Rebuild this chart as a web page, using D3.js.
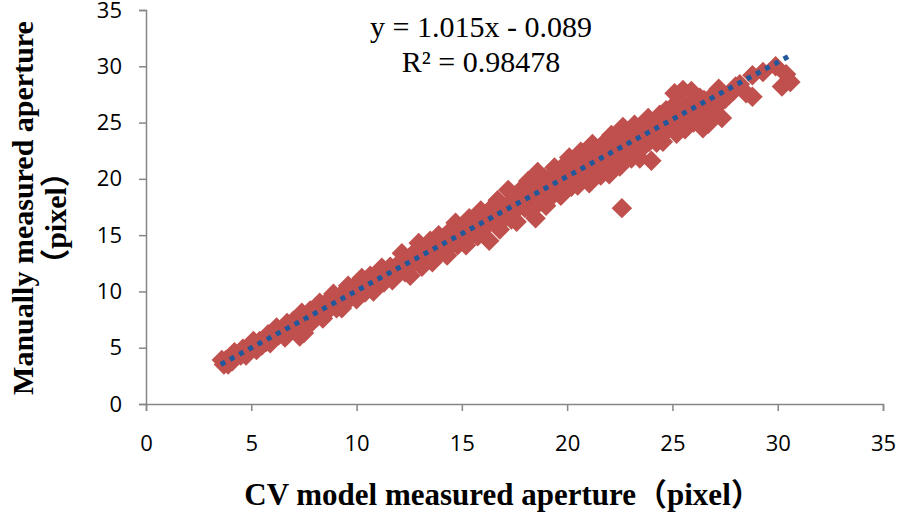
<!DOCTYPE html>
<html>
<head>
<meta charset="utf-8">
<script src="https://cdn.jsdelivr.net/npm/d3@7"></script>
<style>
  body { margin: 0; background: #fff; }
  svg { display: block; }
</style>
</head>
<body>
<svg id="chart" width="898" height="525"></svg>
<script>
// CV model measured aperture (x) vs manually measured aperture (y), pixels
const cvMeasured = [
  3.6, 3.7, 3.8, 3.9, 4.0, 4.1, 4.2, 4.35, 4.5, 4.6, 4.75, 4.9, 5.0,
  5.1, 5.25, 5.4, 5.5, 5.65, 5.8, 5.9, 6.05, 6.2, 6.3, 6.45, 6.6, 6.7, 6.85,
  7.0, 7.1, 7.25, 7.4, 7.5, 7.3, 7.65, 7.8, 7.9, 8.0,
  8.1, 8.25, 8.4, 8.5, 8.65, 8.8, 8.9, 9.05, 9.2, 9.3, 9.45, 9.6, 9.7, 9.85,
  10.0, 10.1, 10.25, 10.4, 10.5, 10.65, 10.8, 10.9, 11.05, 11.2, 11.3, 11.45,
  11.6, 11.7, 11.85, 12.0,
  12.15, 12.3, 12.4, 12.55, 12.7, 12.8, 12.95, 13.1, 13.2, 13.35, 13.5, 13.6,
  13.75, 13.9, 14.0, 14.15, 14.3, 14.4, 14.55, 14.7, 14.8, 14.95, 15.1, 15.2,
  15.35, 15.5, 15.6, 15.75, 15.9, 16.0, 16.15, 16.3, 16.4,
  16.55, 16.7, 16.8, 16.95, 17.1, 17.2, 17.35, 17.5, 17.6, 17.75, 17.9, 18.0,
  18.15, 18.3, 18.4, 18.5, 18.6, 18.75, 18.9, 19.0, 19.15, 19.3, 19.4, 19.55,
  19.7, 19.8, 19.95, 20.1, 20.2, 20.35,
  20.5, 20.65, 20.8, 20.9, 21.05, 21.2, 21.3, 21.45, 21.6, 21.7, 21.85, 22.0,
  22.1, 22.25, 22.4, 22.5, 22.6, 22.65, 22.8, 22.9, 23.05, 23.2, 23.3, 23.45,
  23.6, 23.7, 23.85, 24.0, 24.1, 24.25, 24.4,
  24.55, 24.7, 24.8, 24.95, 25.1, 25.2, 25.35, 25.5, 25.6, 25.75, 25.9, 26.0,
  26.15, 26.3, 26.45, 26.6, 26.7, 26.85, 27.0, 27.2, 27.35, 27.5,
  27.9, 28.2, 28.5, 28.8, 28.8, 29.3, 29.9, 30.2, 30.4, 30.6,
  5.3, 5.7, 6.1, 6.5, 6.9, 7.7, 8.2, 8.6, 9.0, 9.4, 9.8, 10.2, 10.6, 11.0,
  11.4, 11.8,
  12.2, 12.5, 12.9, 13.2, 13.5, 13.8, 14.1, 14.4, 14.7, 15.0, 15.3, 15.6,
  15.9, 16.2, 16.5,
  16.8, 17.0, 17.3, 17.5, 17.8, 18.0, 18.3, 18.5, 18.8, 19.0, 19.2, 19.5,
  19.7, 20.0, 20.2, 20.4,
  20.7, 20.9, 21.2, 21.4, 21.7, 21.9, 22.2, 22.4, 22.7, 22.9, 23.2, 23.4,
  23.7, 23.9, 24.2, 24.4,
  24.6, 24.8, 25.0, 25.3, 25.5, 25.8, 26.0, 26.2, 26.5, 26.8, 27.1, 27.3,
  27.7, 28.0
];
const manualMeasured = [
  3.9, 3.5, 3.9, 3.5, 4.2, 3.8, 4.6, 4.3, 4.3, 4.9, 4.3, 5.0, 4.9,
  5.6, 4.8, 5.6, 5.2, 5.7, 6.2, 5.4, 6.0, 6.8, 6.1, 6.6, 5.9, 7.2, 6.7,
  7.4, 6.7, 7.3, 8.1, 6.3, 6.0, 7.5, 8.3, 7.3, 8.2,
  7.7, 9.0, 7.6, 8.7, 9.2, 8.6, 9.8, 8.5, 9.6, 8.5, 9.5, 10.5, 9.4, 10.4,
  9.3, 10.4, 11.2, 9.9, 10.5, 11.4, 10.0, 11.3, 10.9, 12.1, 10.8, 11.6,
  12.2, 11.0, 12.2, 11.6,
  13.4, 11.7, 12.8, 11.4, 13.4, 12.7, 14.3, 12.2, 13.7, 13.0, 14.5, 12.6,
  14.0, 15.0, 13.4, 14.8, 13.2, 15.3, 14.3, 16.1, 14.1, 15.1, 15.9, 14.1,
  16.5, 15.1, 16.0, 14.9, 17.2, 15.5, 16.8, 14.5, 17.4,
  16.1, 18.1, 15.5, 17.6, 17.0, 19.0, 16.4, 18.5, 16.2, 18.1, 19.2, 17.4,
  19.8, 17.2, 18.9, 16.5, 20.6, 18.5, 20.1, 17.6, 20.0, 18.5, 21.0, 19.6,
  18.5, 21.1, 19.5, 21.9, 19.3, 21.1,
  19.4, 22.4, 20.5, 21.8, 19.6, 23.1, 20.7, 22.0, 20.3, 23.1, 21.8, 20.4,
  23.9, 21.5, 23.5, 21.1, 17.4, 24.6, 22.4, 23.7, 21.8, 24.8, 23.2, 21.8,
  24.9, 23.0, 25.4, 21.6, 24.7, 23.2, 25.7,
  23.3, 26.1, 24.4, 25.5, 27.6, 24.0, 26.2, 27.9, 24.4, 25.6, 27.8, 25.0,
  26.6, 27.2, 24.5, 26.1, 24.9, 27.3, 26.3, 28.0, 25.4, 27.1,
  27.8, 28.4, 27.6, 29.2, 27.3, 29.5, 30.0, 28.2, 29.3, 28.6,
  5.3, 5.5, 6.2, 6.3, 7.0, 7.9, 8.3, 8.8, 9.0, 9.7, 9.8, 10.4, 10.6, 11.3,
  11.4, 12.0,
  12.0, 12.9, 12.8, 13.6, 13.3, 14.3, 13.9, 14.7, 14.3, 15.6, 15.0, 16.0,
  15.6, 16.0, 16.9,
  17.3, 16.4, 17.9, 17.1, 18.6, 17.9, 18.7, 19.6, 18.0, 19.5, 18.9, 20.4,
  19.3, 20.7, 20.0, 20.2,
  21.2, 20.2, 22.0, 21.0, 22.5, 21.1, 22.9, 22.0, 23.3, 22.5, 23.9, 22.6,
  24.2, 23.3, 24.6, 23.8,
  25.5, 24.9, 26.4, 25.1, 26.6, 26.2, 27.0, 25.6, 27.0, 26.0, 27.3, 26.8,
  27.5, 28.2
];
const axisTicks = [0, 5, 10, 15, 20, 25, 30, 35];
const fitSlope = 1.015;
const fitIntercept = -0.089;
const equationLines = ["y = 1.015x - 0.089", "R² = 0.98478"];

const svg = d3.select("#chart");
const plotLeft = 146, plotRight = 883, plotTop = 10, plotBottom = 404;

const x = d3.scaleLinear().domain([0, 35]).range([plotLeft, plotRight]);
const y = d3.scaleLinear().domain([0, 35]).range([plotBottom, plotTop]);

const axisColor = "#868686";
const tickFont = "'Open Sans', 'DejaVu Sans', sans-serif";

// y axis
const yAxis = svg.append("g")
  .attr("transform", `translate(${plotLeft},0)`)
  .call(d3.axisLeft(y).tickValues(axisTicks).tickSize(7).tickPadding(17));
// x axis
const xAxis = svg.append("g")
  .attr("transform", `translate(0,${plotBottom})`)
  .call(d3.axisBottom(x).tickValues(axisTicks).tickSize(7).tickPadding(24));

[xAxis, yAxis].forEach(g => {
  g.select(".domain").attr("stroke", axisColor).attr("stroke-width", 1.5);
  g.selectAll(".tick line").attr("stroke", axisColor).attr("stroke-width", 1.5);
  g.selectAll(".tick text")
    .attr("fill", "#000")
    .style("font-family", tickFont)
    .style("font-size", "22px");
});

// scatter points (diamonds)
const pts = cvMeasured.map((v, i) => ({ cx: v, my: manualMeasured[i] }));
svg.append("g")
  .selectAll("path")
  .data(pts)
  .enter()
  .append("path")
  .attr("d", d3.symbol(d3.symbolSquare, 210))
  .attr("transform", d => `translate(${x(d.cx)},${y(d.my)}) rotate(45)`)
  .attr("fill", "#C0504D");

// linear trend line (dotted)
const xExt = d3.extent(cvMeasured);
const fitLine = d3.line()
  .x(d => x(d))
  .y(d => y(fitSlope * d + fitIntercept));
svg.append("path")
  .datum([xExt[0] - 0.05, xExt[1]])
  .attr("d", fitLine)
  .attr("fill", "none")
  .attr("stroke", "#21579B")
  .attr("stroke-width", 5)
  .attr("stroke-dasharray", "5,5.5");

// equation
svg.append("g")
  .selectAll("text")
  .data(equationLines)
  .enter()
  .append("text")
  .attr("x", 481)
  .attr("y", (d, i) => 37 + i * 35)
  .attr("text-anchor", "middle")
  .style("font-family", "'Liberation Serif', serif")
  .style("font-size", "30px")
  .text(d => d);

// axis titles
const titleFont = "'Liberation Serif', 'Noto Sans CJK SC', serif";
svg.append("text")
  .attr("x", 503)
  .attr("y", 505)
  .attr("text-anchor", "middle")
  .style("font-family", titleFont)
  .style("font-weight", "bold")
  .style("font-size", "31px")
  .text("CV model measured aperture（pixel）");

const yTitle = svg.append("text")
  .attr("transform", "translate(33,208) rotate(-90)")
  .attr("text-anchor", "middle")
  .style("font-family", titleFont)
  .style("font-weight", "bold")
  .style("font-size", "30px");
yTitle.append("tspan").attr("x", 0).attr("dy", 0).text("Manually measured aperture");
yTitle.append("tspan").attr("x", -10).attr("dy", 33).text("（pixel）");
</script>
</body>
</html>
